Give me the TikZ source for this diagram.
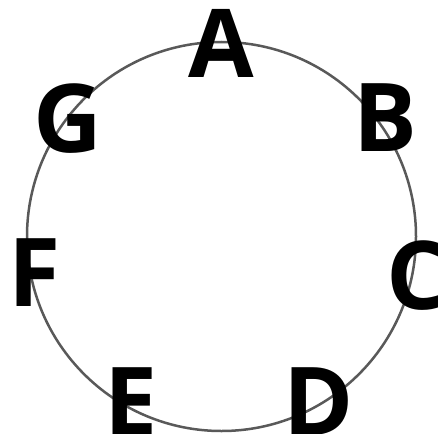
\documentclass[tikz,border=0pt]{standalone}
\usepackage{fontspec}
\setmainfont{Open Sans}
\usepackage{tikz}

\begin{document}
\begin{tikzpicture}[
  x=1pt, y=-1pt,
  ring/.style={draw=black!65, line width=2.5pt},
  letter/.style={font=\fontsize{95}{95}\selectfont\bfseries, inner sep=0pt, text=black},
]
\useasboundingbox (0,0) rectangle (438,433);
\node[ring, circle, minimum size=389pt, inner sep=0pt] (ring) at (221.5,236.5) {};
\node[letter] (a) at (221,43.5) {A};
\node[letter] (b) at (385.5,117.5) {B};
\node[letter] (c) at (417,276) {C};
\node[letter] (d) at (319,401.5) {D};
\node[letter] (e) at (131,401.5) {E};
\node[letter] (f) at (35,273) {F};
\node[letter] (g) at (67.5,119) {G};
\end{tikzpicture}
\end{document}
